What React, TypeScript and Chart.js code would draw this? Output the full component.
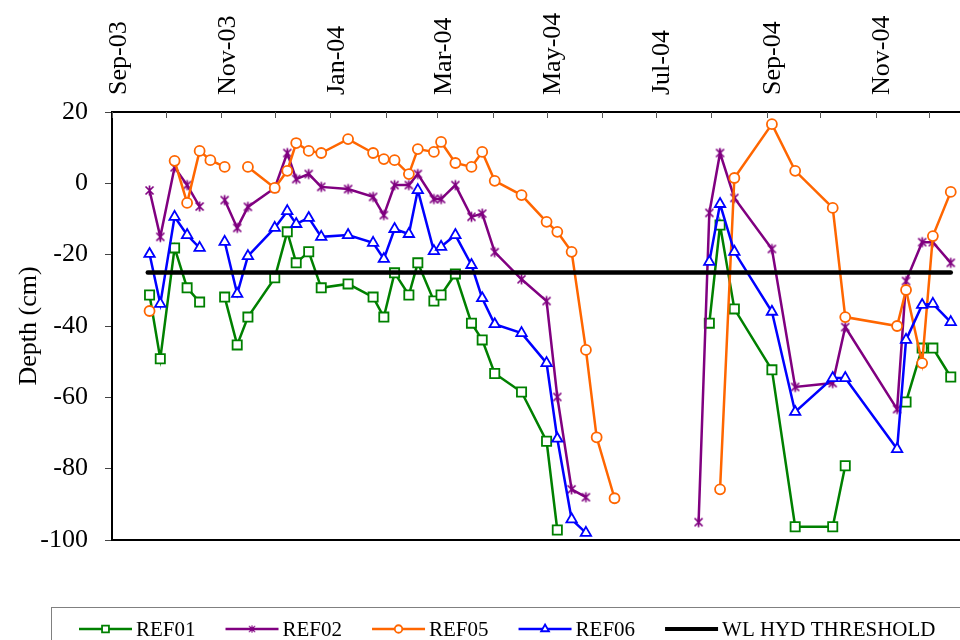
import React, { useEffect, useRef } from 'react';
import { Chart, registerables } from 'chart.js';

Chart.register(...registerables);

const FONT = '"Liberation Serif", "Times New Roman", serif';

// ---- axis ----
const axisStart = '2003-09-01';
const axisEnd = '2004-12-18';
const tickMonths = [
  '2003-09-01', '2003-10-01', '2003-11-01', '2003-12-01', '2004-01-01', '2004-02-01',
  '2004-03-01', '2004-04-01', '2004-05-01', '2004-06-01', '2004-07-01', '2004-08-01',
  '2004-09-01', '2004-10-01', '2004-11-01', '2004-12-01',
];
const tickLabels = [
  'Sep-03', '', 'Nov-03', '', 'Jan-04', '', 'Mar-04', '', 'May-04', '', 'Jul-04', '',
  'Sep-04', '', 'Nov-04', '',
];
const yMin = -100;
const yMax = 20;
const yStep = 20;
const yTitle = 'Depth (cm)';

// ---- data ----
const sampleDates = [
  '2003-09-22', '2003-09-28', '2003-10-06', '2003-10-13', '2003-10-20', '2003-10-26',
  '2003-11-03', '2003-11-10', '2003-11-16', '2003-12-01', '2003-12-08', '2003-12-13',
  '2003-12-20', '2003-12-27', '2004-01-11', '2004-01-25', '2004-01-31', '2004-02-06',
  '2004-02-14', '2004-02-19', '2004-02-28', '2004-03-03', '2004-03-11', '2004-03-20',
  '2004-03-26', '2004-04-02', '2004-04-17', '2004-05-01', '2004-05-07', '2004-05-15',
  '2004-05-23', '2004-05-29', '2004-06-08', '2004-07-25', '2004-07-31', '2004-08-06',
  '2004-08-14', '2004-09-04', '2004-09-17', '2004-10-08', '2004-10-15', '2004-11-13',
  '2004-11-18', '2004-11-27', '2004-12-03', '2004-12-13',
];

const ref01 = [
  -31.3, -49.2, -18.1, -29.3, -33.3, null, -31.9, -45.3, -37.5, -26.5, -13.6, -22.3,
  -19.2, -29.3, -28.2, -31.9, -37.5, -25.1, -31.3, -22.3, -33.0, -31.3, -25.4, -39.2,
  -43.9, -53.3, -58.5, -72.3, -97.2, null, null, null, null, null, -39.2, -11.7,
  -35.2, -52.3, -96.3, -96.3, -79.2, null, -61.3, -46.2, -46.2, -54.3,
];
const ref02 = [
  -2, -15, 4.5, -0.5, -6.5, null, -4.7, -12.5, -6.6, -1.3, 8.5, 1.2,
  2.6, -1, -1.6, -3.8, -8.9, -0.5, -0.5, 2.6, -4.4, -4.4, -0.5, -9.4,
  -8.5, -19.3, -26.9, -33, -59.9, -85.8, -88, null, null, -95, -8.3, 8.5,
  -4.1, -18.4, -57.1, -56, -40.3, -63.3, -27.4, -16.5, -16.5, -22.3,
];
const ref05 = [
  -35.8, null, 6.3, -5.5, 9.1, 6.5, 4.6, null, 4.6, -1.3, 3.5, 11.3,
  9.1, 8.5, 12.4, 8.5, 6.8, 6.5, 2.6, 9.6, 8.8, 11.6, 5.7, 4.6,
  8.8, 0.7, -3.3, -10.8, -13.6, -19.2, -46.7, -71.2, -88.3, null, null, -85.8,
  1.5, 16.6, 3.5, -6.9, -37.5, -40, -29.9, -50.4, -14.8, -2.4,
];
const ref06 = [
  -19.8, -33.8, -9.4, -14.5, -18.1, null, -16.4, -31, -20.4, -12.5, -7.8, -11.4,
  -9.7, -15, -14.5, -16.7, -21.2, -12.8, -14.2, -1.9, -19, -17.8, -14.5, -22.9,
  -32.2, -39.5, -42, -50.4, -71.6, -94.2, -98, null, null, null, -22, -5.8,
  -19.2, -36, -64.1, -54.6, -54.6, -74.5, -43.9, -34.1, -33.8, -38.9,
];
const thresholdDates = ['2003-09-21', '2004-12-13'];
const thresholdValue = -25;

const seriesNames = ['REF01', 'REF02', 'REF05', 'REF06', 'WL HYD THRESHOLD'];

// ---- helpers ----
const DAY = 86400000;
const dayOf = (iso: string) => (Date.parse(iso) - Date.parse(axisStart)) / DAY;

function makeStar(color: string): HTMLCanvasElement {
  const c = document.createElement('canvas');
  c.width = 13;
  c.height = 13;
  const g = c.getContext('2d')!;
  g.strokeStyle = color;
  g.lineWidth = 1.7;
  g.beginPath();
  g.moveTo(2.5, 2.5); g.lineTo(10.5, 10.5);
  g.moveTo(10.5, 2.5); g.lineTo(2.5, 10.5);
  g.moveTo(6.5, 1.5); g.lineTo(6.5, 11.5);
  g.stroke();
  return c;
}

function drawMarker(ctx: CanvasRenderingContext2D, ds: any, x: number, y: number, s: number) {
  const style = ds.pointStyle;
  if (style === false || style === undefined || ds.pointRadius === 0) return;
  if (typeof style !== 'string') {
    const w = style.width * s, h = style.height * s;
    ctx.drawImage(style, x - w / 2, y - h / 2, w, h);
    return;
  }
  const r = ds.pointRadius * s;
  ctx.save();
  ctx.lineWidth = ds.pointBorderWidth;
  ctx.strokeStyle = ds.pointBorderColor;
  ctx.fillStyle = ds.pointBackgroundColor;
  ctx.beginPath();
  if (style === 'rect') {
    const h = r * Math.SQRT1_2;
    ctx.rect(x - h, y - h, 2 * h, 2 * h);
  } else if (style === 'circle') {
    ctx.arc(x, y, r, 0, Math.PI * 2);
  } else if (style === 'triangle') {
    for (let k = 0; k < 3; k++) {
      const a = (k * 2 * Math.PI) / 3;
      const px = x + Math.sin(a) * r, py = y - Math.cos(a) * r;
      if (k === 0) ctx.moveTo(px, py); else ctx.lineTo(px, py);
    }
    ctx.closePath();
  }
  ctx.fill();
  ctx.stroke();
  ctx.restore();
}

const decorPlugin = {
  id: 'decor',
  beforeDatasetsDraw(chart: any) {
    const { ctx, chartArea: a } = chart;
    const xs = chart.scales.x;
    ctx.save();
    ctx.strokeStyle = '#000';
    ctx.lineWidth = 2;
    ctx.beginPath();
    ctx.moveTo(a.left, a.bottom);
    ctx.lineTo(a.left, a.top);
    ctx.lineTo(a.right + 2, a.top);
    ctx.moveTo(a.left - 1, a.bottom);
    ctx.lineTo(a.right + 2, a.bottom);
    ctx.stroke();
    ctx.lineWidth = 1;
    ctx.strokeStyle = '#555';
    ctx.beginPath();
    tickMonths.forEach((m) => {
      const px = Math.round(xs.getPixelForValue(dayOf(m))) + 0.5;
      ctx.moveTo(px, a.top);
      ctx.lineTo(px, a.top + 6);
    });
    ctx.stroke();
    ctx.restore();
  },
  afterDraw(chart: any) {
    const { ctx } = chart;
    const boxLeft = 51, boxTop = 607;
    ctx.save();
    ctx.strokeStyle = '#808080';
    ctx.lineWidth = 1;
    ctx.strokeRect(boxLeft + 0.5, boxTop + 0.5, 1000, 100);
    ctx.font = `21px ${FONT}`;
    ctx.textBaseline = 'middle';
    ctx.textAlign = 'left';
    ctx.fillStyle = '#000';
    const cy = 629;
    let x = 79;
    const order = [0, 1, 2, 3, 4];
    order.forEach((i) => {
      const ds = chart.data.datasets[i];
      ctx.save();
      ctx.strokeStyle = ds.borderColor;
      ctx.lineWidth = Math.min(ds.borderWidth, 4);
      ctx.beginPath();
      ctx.moveTo(x, cy);
      ctx.lineTo(x + 53, cy);
      ctx.stroke();
      ctx.restore();
      drawMarker(ctx, ds, x + 26.5, cy, 0.75);
      ctx.fillStyle = '#000';
      ctx.fillText(ds.label, x + 57, cy + 1);
      x += 57 + ctx.measureText(ds.label).width + 30;
    });
    ctx.restore();
  },
};

export default function App() {
  const ref = useRef<HTMLCanvasElement | null>(null);

  useEffect(() => {
    if (!ref.current) return;
    const toPts = (vals: (number | null)[]) =>
      sampleDates.map((d, i) => ({ x: dayOf(d), y: vals[i] }));
    const star = makeStar('#800080');
    const common = {
      borderWidth: 2.5,
      pointBorderWidth: 1.8,
      pointBackgroundColor: '#ffffff',
      spanGaps: false,
      tension: 0,
      clip: false as const,
    };
    const chart = new Chart(ref.current, {
      type: 'line',
      data: {
        datasets: [
          {
            ...common, label: seriesNames[0], data: toPts(ref01) as any,
            borderColor: '#008000', pointBorderColor: '#008000',
            pointStyle: 'rect', pointRadius: 6.5, order: 4,
          },
          {
            ...common, label: seriesNames[1], data: toPts(ref02) as any,
            borderColor: '#800080', pointBorderColor: '#800080',
            pointStyle: star as any, pointRadius: 6, order: 3,
          },
          {
            ...common, label: seriesNames[2], data: toPts(ref05) as any,
            borderColor: '#FF6600', pointBorderColor: '#FF6600',
            pointStyle: 'circle', pointRadius: 5, order: 2,
          },
          {
            ...common, label: seriesNames[3], data: toPts(ref06) as any,
            borderColor: '#0000FF', pointBorderColor: '#0000FF',
            pointStyle: 'triangle', pointRadius: 6, order: 1,
          },
          {
            label: seriesNames[4],
            data: thresholdDates.map((d) => ({ x: dayOf(d), y: thresholdValue })),
            borderColor: '#000000', borderWidth: 4.5, borderCapStyle: 'round',
            pointRadius: 0, pointStyle: false as any, order: 0, clip: false as const,
          },
        ],
      },
      options: {
        animation: false,
        responsive: false,
        devicePixelRatio: 1,
        layout: { padding: { left: 0, right: 0, top: 0, bottom: 100 } },
        plugins: { legend: { display: false }, tooltip: { enabled: false } },
        events: [],
        scales: {
          x: {
            type: 'linear',
            position: 'top',
            min: dayOf(axisStart),
            max: dayOf(axisEnd),
            afterBuildTicks: (scale: any) => {
              scale.ticks = tickMonths.map((m) => ({ value: dayOf(m) }));
            },
            afterFit: (scale: any) => {
              scale.height = 112;
              scale.paddingLeft = 0;
              scale.paddingRight = 0;
            },
            grid: { display: false },
            border: { display: false },
            ticks: {
              autoSkip: false,
              minRotation: 90,
              maxRotation: 90,
              padding: 9,
              labelOffset: 38,
              color: '#000',
              font: { family: FONT, size: 26 },
              callback: (_v: any, i: number) => tickLabels[i] ?? '',
            },
          },
          y: {
            type: 'linear',
            min: yMin,
            max: yMax,
            afterFit: (scale: any) => {
              scale.width = 112;
            },
            grid: {
              display: true,
              drawOnChartArea: false,
              drawTicks: true,
              tickLength: 7,
              color: '#444',
            },
            border: { display: false },
            ticks: {
              stepSize: yStep,
              padding: 17,
              color: '#000',
              font: { family: FONT, size: 26 },
            },
            title: {
              display: true,
              text: yTitle,
              color: '#000',
              font: { family: FONT, size: 26 },
              padding: { top: 14, bottom: 0 },
            },
          },
        },
      },
      plugins: [decorPlugin],
    });
    return () => chart.destroy();
  }, []);

  return (
    <div style={{ position: 'fixed', left: 0, top: 0, width: 960, height: 640, overflow: 'hidden', background: '#fff' }}>
      <canvas ref={ref} width={968} height={640} style={{ display: 'block' }} />
    </div>
  );
}
